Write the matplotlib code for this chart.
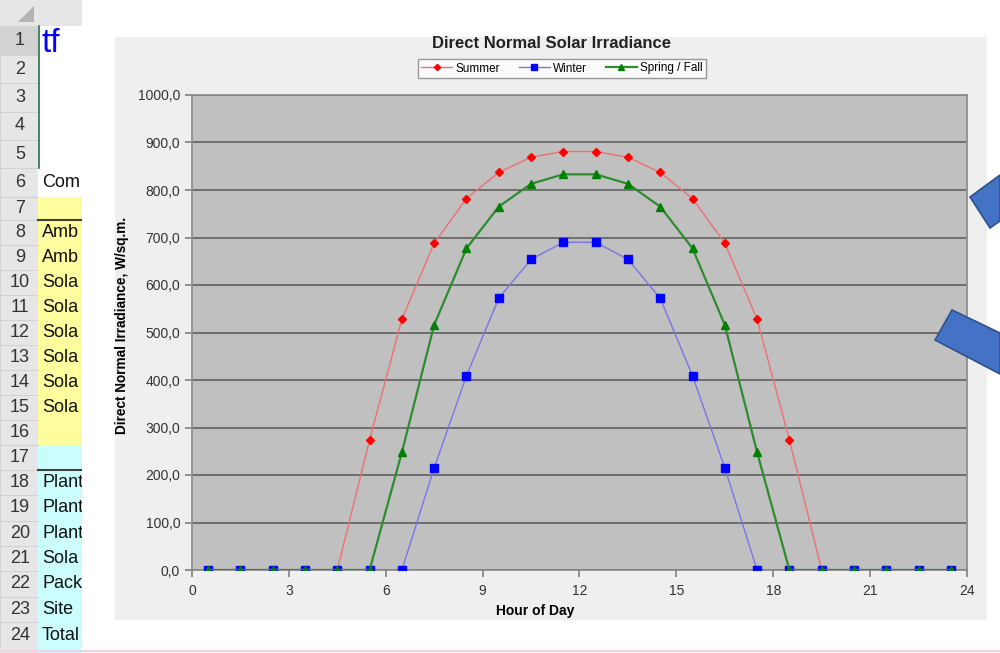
import matplotlib.pyplot as plt
from matplotlib.patches import Rectangle, Polygon

# chart data
hours = [0.5, 1.5, 2.5, 3.5, 4.5, 5.5, 6.5, 7.5, 8.5, 9.5, 10.5, 11.5,
         12.5, 13.5, 14.5, 15.5, 16.5, 17.5, 18.5, 19.5, 20.5, 21.5, 22.5, 23.5]
summer = [0, 0, 0, 0, 0, 274, 528, 688, 782, 837, 869, 881,
          881, 869, 837, 782, 688, 528, 274, 0, 0, 0, 0, 0]
winter = [0, 0, 0, 0, 0, 0, 0, 215, 409, 572, 654, 690,
          690, 654, 572, 409, 215, 0, 0, 0, 0, 0, 0, 0]
spring_fall = [0, 0, 0, 0, 0, 0, 248, 516, 677, 765, 813, 833,
               833, 813, 765, 677, 516, 248, 0, 0, 0, 0, 0, 0]

x_ticks = [0, 3, 6, 9, 12, 15, 18, 21, 24]
y_ticks = [0, 100, 200, 300, 400, 500, 600, 700, 800, 900, 1000]
y_tick_labels = ["0,0", "100,0", "200,0", "300,0", "400,0", "500,0",
                 "600,0", "700,0", "800,0", "900,0", "1000,0"]

# spreadsheet column shown at the left
row_numbers = list(range(1, 25))
col_a_text = ["", "", "", "", "", "Com", "", "Amb", "Amb", "Sola", "Sola", "Sola",
              "Sola", "Sola", "Sola", "", "", "Plant", "Plant", "Plant", "Sola",
              "Pack", "Site", "Total"]

plt.rcParams['font.family'] = ['Liberation Sans', 'DejaVu Sans']

W, H = 1000, 653
fig = plt.figure(figsize=(10, 6.53), dpi=100)
fig.patch.set_facecolor('white')


def fx(x):
    return x / W


def fy(y):
    return 1 - y / H


def box(x0, y0, x1, y1, z=0.5, **kw):
    fig.add_artist(Rectangle((fx(x0), fy(y1)), fx(x1) - fx(x0), (y1 - y0) / H,
                             transform=fig.transFigure, zorder=z, **kw))


def hline(x0, x1, y, z=1.5, **kw):
    fig.add_artist(plt.Line2D([fx(x0), fx(x1)], [fy(y), fy(y)],
                              transform=fig.transFigure, zorder=z, **kw))


# --- spreadsheet background ---
row_top = [26, 55, 83, 112, 140, 168, 197, 220, 245, 270, 295, 320, 345, 370,
           395, 420, 445, 470, 495, 521, 546, 571, 597, 622, 648]
box(0, 0, 82, 26, facecolor='#e6e6e6', edgecolor='none')
fig.add_artist(Polygon([(fx(34), fy(6)), (fx(34), fy(22)), (fx(18), fy(22))],
                       closed=True, transform=fig.transFigure, zorder=1,
                       facecolor='#b4b4b4', edgecolor='none'))
for i, r in enumerate(row_numbers):
    y0, y1 = row_top[i], row_top[i + 1]
    hdr = '#d2d2d2' if r == 1 else '#e6e6e6'
    box(0, y0, 38, y1, facecolor=hdr, edgecolor='#cfcfcf', linewidth=0.6)
    if 7 <= r <= 16:
        cell = '#fdfd9e'
    elif r >= 17:
        cell = '#ccfdfd'
    else:
        cell = 'white'
    box(38, y0, 82, y1, facecolor=cell, edgecolor='none')
    fig.text(fx(20), fy((y0 + y1) / 2), str(r), ha='center', va='center',
             fontsize=13, color='#333333', zorder=1)
    if col_a_text[i]:
        fig.text(fx(42), fy((y0 + y1) / 2), col_a_text[i], ha='left', va='center',
                 fontsize=13, color='#111111', zorder=1)
box(0, 648, 38, 653, facecolor='#e6e6e6', edgecolor='none')
box(38, 648, 82, 653, facecolor='#ccfdfd', edgecolor='none')
hline(38, 82, 220, color='#404040', lw=1.5)
hline(38, 82, 470, color='#404040', lw=1.5)
fig.add_artist(plt.Line2D([fx(39), fx(39)], [fy(26), fy(168)], zorder=1.5,
                          transform=fig.transFigure, color='#217346', lw=1.2))
fig.text(fx(42), fy(44), 'tf', ha='left', va='center', fontsize=24,
         color='#0000ff', zorder=1)

# white area holding the chart (covers text overflowing column A)
box(82, 0, 1000, 650, z=2, facecolor='white', edgecolor='none')
hline(0, 1000, 651, z=2.1, color='#e8d4e4', lw=1.5)
# chart area
box(115, 37, 987, 620, z=2.2, facecolor='#efefef', edgecolor='none')

# --- plot ---
ax = fig.add_axes([fx(192), fy(570), fx(967) - fx(192), (570 - 95) / H])
ax.set_zorder(3)
ax.set_facecolor('#c0c0c0')
ax.set_axisbelow(True)
ax.grid(axis='y', color='#6e6e6e', linewidth=1.4)

ax.plot(hours, summer, color='#ee7070', linewidth=1.0, marker='D',
        markersize=4.2, markerfacecolor='#ff0000', markeredgecolor='#ff0000',
        label='Summer', zorder=3)
ax.plot(hours, winter, color='#7777e6', linewidth=1.0, marker='s',
        markersize=6, markerfacecolor='#0000ff', markeredgecolor='#0000ff',
        label='Winter', zorder=4)
ax.plot(hours, spring_fall, color='#2e8b2e', linewidth=1.6, marker='^',
        markersize=5.5, markerfacecolor='#008000', markeredgecolor='#008000',
        label='Spring / Fall', zorder=5)

ax.set_xlim(0, 24)
ax.set_ylim(0, 1000)
ax.set_xticks(x_ticks)
ax.set_yticks(y_ticks)
ax.set_yticklabels(y_tick_labels)
ax.tick_params(axis='both', labelsize=10, colors='#808080', labelcolor='#333333',
               direction='out', length=5, width=1.2)
ax.tick_params(axis='x', pad=5)
for side in ['top', 'right', 'left', 'bottom']:
    ax.spines[side].set_color('#8a8a8a')
    ax.spines[side].set_linewidth(1.2)

ax.set_xlabel('Hour of Day', fontsize=10, fontweight='bold')
ax.xaxis.set_label_coords((535 - 192) / 775, (570 - 604) / 475)
ax.set_ylabel('Direct Normal Irradiance, W/sq.m.', fontsize=9.8,
              fontweight='bold')
ax.yaxis.set_label_coords((129 - 192) / 775, (570 - 325) / 475)

fig.text(fx(551), fy(43), 'Direct Normal Solar Irradiance', ha='center',
         va='center', fontsize=12, fontweight='bold', color='#222222', zorder=4)
leg = fig.legend(loc='center', bbox_to_anchor=(fx(562), fy(68.5)), ncol=3,
                 fontsize=8.5, frameon=True, fancybox=False, edgecolor='#808080',
                 handlelength=2.6, columnspacing=1.6, borderpad=0.3,
                 handletextpad=0.3, markerscale=0.75)
leg.set_zorder(4)
leg.get_frame().set_linewidth(1.0)

# blue arrow shapes at the right edge
for pts in ([(970, 197), (1000, 175), (1000, 221), (990, 228)],
            [(935, 340), (952, 310), (1000, 333), (1000, 374)]):
    fig.add_artist(Polygon([(fx(a), fy(b)) for a, b in pts], closed=True,
                           transform=fig.transFigure, facecolor='#4472c4',
                           edgecolor='#2f528f', linewidth=1.2, zorder=5))

fig.savefig('out.png', dpi=100)
